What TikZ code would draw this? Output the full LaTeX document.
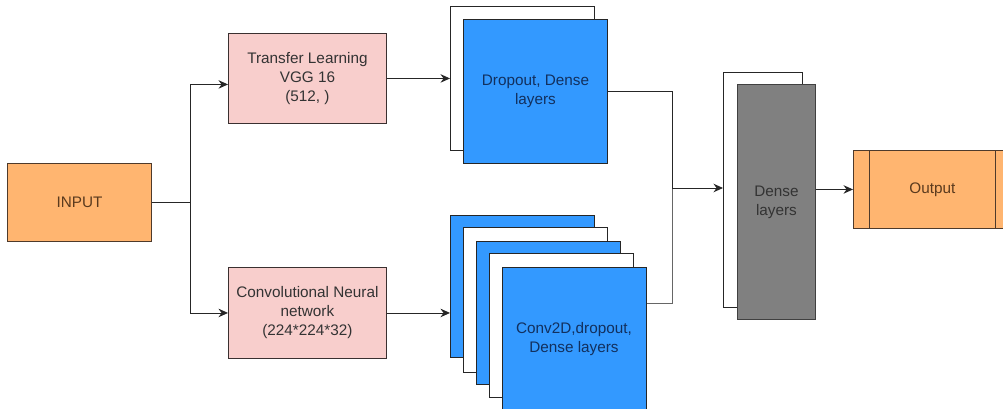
\documentclass[tikz,border=0pt]{standalone}
\usepackage{fontspec}
\setmainfont{Liberation Sans}
\usetikzlibrary{arrows.meta,calc}
\definecolor{orangefill}{HTML}{FFB570}
\definecolor{orangeedge}{HTML}{4E3A2B}
\definecolor{pinkfill}{HTML}{F8CECC}
\definecolor{pinkedge}{HTML}{3A3030}
\definecolor{bluefill}{HTML}{3399FF}
\definecolor{navytext}{HTML}{12305E}
\definecolor{grayfill}{HTML}{808080}
\definecolor{browntext}{HTML}{5A3A1E}
\tikzset{
  box/.style={draw, line width=0.9pt, anchor=north west, inner sep=0pt,
    align=center, font=\fontsize{15.3}{19}\selectfont},
  orangebox/.style={box, fill=orangefill, draw=orangeedge, text=browntext},
  pinkbox/.style={box, fill=pinkfill, draw=pinkedge, text=black!80},
  bluebox/.style={box, fill=bluefill, draw=black!85, text=navytext},
  whitebox/.style={box, fill=white, draw=black!85},
  graybox/.style={box, fill=grayfill, draw=black!75, text=black!80},
  link/.style={line width=0.9pt, draw=black!85},
  arr/.style={link, -{Stealth[length=9.5pt,width=8.5pt]}},
}
\begin{document}
\begin{tikzpicture}[x=1pt,y=-1pt]
\useasboundingbox (0,0) rectangle (1003,409);
\clip (0,0) rectangle (1003,409);

% input and the two feature extractors
\node[orangebox, minimum width=144pt, minimum height=78pt] (input) at (7,163) {INPUT};
\node[pinkbox, minimum width=158pt, minimum height=90pt] (tl) at (228,33)
  {Transfer Learning\\VGG 16\\(512, )};
\node[pinkbox, minimum width=158pt, minimum height=91pt] (cnn) at (228,267)
  {Convolutional Neural\\network\\(224*224*32)};

% upper head: two stacked layers
\node[whitebox, minimum width=144pt, minimum height=144pt] (tw) at (450,6) {};
\node[bluebox, minimum width=144pt, minimum height=144pt] (tb) at (463,19)
  {Dropout, Dense\\layers};

% lower head: five stacked layers
\node[bluebox, minimum width=144pt, minimum height=142pt] (b1) at (450,215) {};
\node[whitebox, minimum width=144pt, minimum height=145pt] (b2) at (463,227) {};
\node[bluebox, minimum width=144pt, minimum height=143pt] (b3) at (476,241) {};
\node[whitebox, minimum width=144pt, minimum height=144pt] (b4) at (489,253) {};
\node[bluebox, minimum width=144pt, minimum height=144pt] (b5) at (502,267) {};
\node[font=\fontsize{15.3}{19}\selectfont, text=navytext, align=center] (b5t) at (574,339)
  {Conv2D,dropout,\\Dense layers};

% merged dense layers
\node[whitebox, minimum width=79pt, minimum height=235pt] (dw) at (723,72) {};
\node[graybox, minimum width=78pt, minimum height=235pt] (dg) at (737,84)
  {Dense\\layers};

% output
\node[orangebox, minimum width=158pt, minimum height=78pt] (out) at (853,150) {Output};
\draw[orangeedge, line width=0.9pt] ($(out.north west)+(16,0)$) -- ($(out.south west)+(16,0)$);
\draw[orangeedge, line width=0.9pt] ($(out.north east)+(-16,0)$) -- ($(out.south east)+(-16,0)$);

% connectors
\path (input.east) ++(39,0) coordinate (split);
\coordinate (mj) at (672,188);
\draw[link] (input.east) -- (split);
\draw[arr] (split) |- ([yshift=-6pt]tl.west);
\draw[arr] (split) |- (cnn.west);
\draw[arr] (tl.east) -- (tw.west);
\draw[arr] (cnn.east) -- (cnn.east -| b1.west);
\draw[link] (tb.east) -| (mj);
\draw[link, draw=black!60] ($(b5.north east)+(0,36)$) -| (mj);
\draw[arr] (mj) -- (mj -| dw.west);
\draw[arr] (dg.east |- out.west) -- (out.west);
\end{tikzpicture}
\end{document}
